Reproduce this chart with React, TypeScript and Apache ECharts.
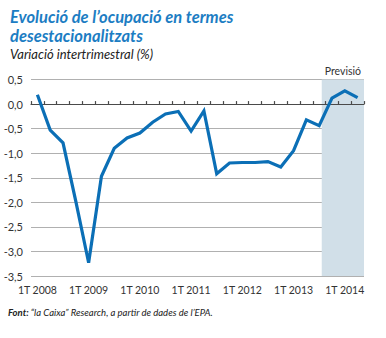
import React, { useEffect, useRef } from "react";
import * as echarts from "echarts";

const quarters: string[] = [
  "1T 2008", "2T 2008", "3T 2008", "4T 2008",
  "1T 2009", "2T 2009", "3T 2009", "4T 2009",
  "1T 2010", "2T 2010", "3T 2010", "4T 2010",
  "1T 2011", "2T 2011", "3T 2011", "4T 2011",
  "1T 2012", "2T 2012", "3T 2012", "4T 2012",
  "1T 2013", "2T 2013", "3T 2013", "4T 2013",
  "1T 2014", "2T 2014",
];

const ocupacio: number[] = [
  0.19, -0.53, -0.79, -1.98,
  -3.23, -1.47, -0.9, -0.69,
  -0.59, -0.37, -0.2, -0.15,
  -0.55, -0.14, -1.42, -1.2,
  -1.19, -1.19, -1.17, -1.28,
  -0.95, -0.32, -0.44, 0.12,
  0.27, 0.13,
];

// forecast shading, in units of quarter boundaries (0 = start of 1T 2008)
const forecastStart = 22.7;
const forecastEnd = 26;

const titleLines: string[] = ["Evolució de l’ocupació en termes", "desestacionalitzats"];
const subtitle = "Variació intertrimestral (%)";
const forecastLabel = "Previsió";

const FONT = "Lato, 'Open Sans', sans-serif";

export default function App() {
  const ref = useRef<HTMLDivElement>(null);
  useEffect(() => {
    if (!ref.current) return;
    const chart = echarts.init(ref.current, null, { renderer: "svg" });
    chart.setOption({
      animation: false,
      textStyle: { fontFamily: FONT },
      grid: { left: 31, right: 22, top: 79.5, bottom: 62, containLabel: false },
      xAxis: [
        {
          type: "category",
          data: quarters,
          boundaryGap: true,
          position: "bottom",
          axisLine: { show: true, onZero: true, lineStyle: { color: "#4a4a4a", width: 1.2 } },
          axisTick: { show: true, inside: true, length: 3, interval: 0, lineStyle: { color: "#4a4a4a", width: 1.2 } },
          axisLabel: { show: false },
          splitLine: { show: false },
          z: 5,
        },
        {
          type: "category",
          data: quarters,
          boundaryGap: true,
          position: "bottom",
          axisLine: { show: false, onZero: false },
          axisTick: { show: false },
          axisLabel: {
            show: true,
            interval: (index: number) => index % 4 === 0,
            color: "#333",
            fontSize: 10.5,
            fontFamily: FONT,
            margin: 8,
          },
          splitLine: { show: false },
        },
        {
          type: "value",
          min: 0,
          max: 26,
          show: false,
        },
      ],
      yAxis: {
        type: "value",
        min: -3.5,
        max: 0.5,
        interval: 0.5,
        axisLine: { show: false },
        axisTick: { show: false },
        axisLabel: {
          color: "#333",
          fontSize: 11,
          fontFamily: FONT,
          margin: 8,
          formatter: (v: number) => v.toFixed(1).replace(".", ","),
        },
        splitLine: { show: true, lineStyle: { color: "#b0b0b0", width: 1.2 } },
      },
      series: [
        {
          type: "line",
          xAxisIndex: 2,
          yAxisIndex: 0,
          data: [],
          silent: true,
          markArea: {
            silent: true,
            itemStyle: { color: "#d1dfe8" },
            label: {
              show: true,
              position: "top",
              distance: 3,
              color: "#333",
              fontSize: 10.5,
              fontFamily: FONT,
            },
            data: [[{ xAxis: forecastStart, yAxis: 0.5, name: forecastLabel }, { xAxis: forecastEnd, yAxis: -3.5 }]],
          },
          z: 1,
        },
        {
          type: "line",
          xAxisIndex: 0,
          data: ocupacio,
          showSymbol: false,
          symbol: "none",
          lineStyle: { color: "#0b6fb6", width: 3.2, join: "miter" },
          z: 10,
        },
      ],
      graphic: [
        {
          type: "text",
          left: 10,
          top: 8,
          style: {
            text: titleLines[0],
            fill: "#1c7dc3",
            font: `italic bold 16.5px ${FONT}`,
            lineHeight: 16,
          },
        },
        {
          type: "text",
          left: 10,
          top: 27.5,
          style: {
            text: titleLines[1],
            fill: "#1c7dc3",
            font: `italic bold 16.5px ${FONT}`,
            lineHeight: 16,
          },
        },
        {
          type: "text",
          left: 10,
          top: 47.5,
          style: {
            text: subtitle,
            fill: "#222",
            font: `italic 13px ${FONT}`,
          },
        },
        {
          type: "text",
          left: 8,
          top: 307,
          style: {
            text: "{b|Font:} “la Caixa” Research, a partir de dades de l’EPA.",
            fill: "#222",
            font: `italic 9.5px ${FONT}`,
            rich: {
              b: { fontWeight: "bold", fontStyle: "italic", fontSize: 9.5, fontFamily: FONT, fill: "#222" },
            },
          },
        },
      ],
    });
    return () => chart.dispose();
  }, []);
  return (
    <div
      ref={ref}
      style={{ position: "fixed", left: 0, top: 0, width: 386, height: 338, background: "#fff" }}
    />
  );
}
